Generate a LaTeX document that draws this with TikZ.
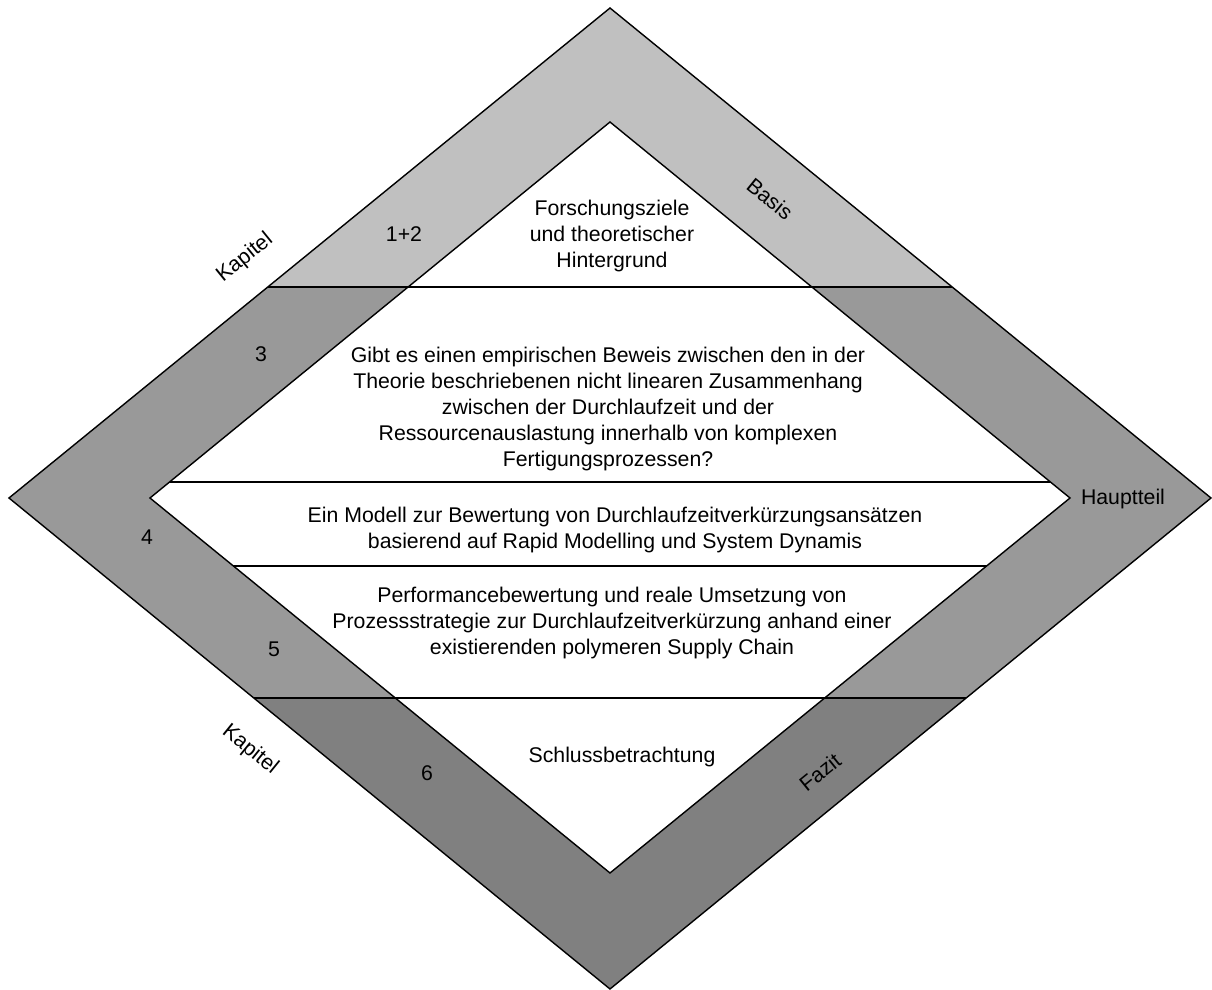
\documentclass[tikz,border=0pt]{standalone}
\usepackage{fontspec}
\setmainfont{Liberation Sans}
\usetikzlibrary{calc}
\definecolor{bandtop}{HTML}{C0C0C0}
\definecolor{bandmid}{HTML}{999999}
\definecolor{bandbot}{HTML}{808080}

\begin{document}
\begin{tikzpicture}[scale=1,
  txt/.style={font=\fontsize{6.05}{7.35}\selectfont, align=center, inner sep=0pt},
  ring/.style={even odd rule},
  rim/.style={black, line width=0.4pt},
  cut/.style={black, line width=0.6pt},
  sep/.style={black, line width=0.5pt}]
\useasboundingbox (-6.10,-4.92) rectangle (6.02,4.98);
%\draw [lightgray](-6,-5) grid (6,5);

% outer and inner diamond
\coordinate (ot) at (0, 4.90);
\coordinate (or) at (6.01, 0);
\coordinate (ob) at (0,-4.91);
\coordinate (ol) at (-6.01, 0);
\coordinate (it) at (0, 3.76);
\coordinate (ir) at (4.60, 0);
\coordinate (ib) at (0,-3.75);
\coordinate (il) at (-4.60, 0);

% grey bands of the ring
\begin{scope}
\clip (-6.2,2.11) rectangle (6.2,5);
\fill [bandtop, ring] (ot) -- (or) -- (ob) -- (ol) -- cycle (it) -- (ir) -- (ib) -- (il) -- cycle;
\end{scope}
\begin{scope}
\clip (-6.2,-2.00) rectangle (6.2,2.11);
\fill [bandmid, ring] (ot) -- (or) -- (ob) -- (ol) -- cycle (it) -- (ir) -- (ib) -- (il) -- cycle;
\end{scope}
\begin{scope}
\clip (-6.2,-5) rectangle (6.2,-2.00);
\fill [bandbot, ring] (ot) -- (or) -- (ob) -- (ol) -- cycle (it) -- (ir) -- (ib) -- (il) -- cycle;
\end{scope}

\draw [rim] (ot) -- (or) -- (ob) -- (ol) -- cycle;
\draw [rim] (it) -- (ir) -- (ib) -- (il) -- cycle;

% horizontal separators
\draw [cut] ($(ol)!0.4306!(ot)$) -- ($(or)!0.4306!(ot)$);
\draw [sep] ($(il)!0.0426!(it)$) -- ($(ir)!0.0426!(it)$);
\draw [sep] ($(il)!0.1813!(ib)$) -- ($(ir)!0.1813!(ib)$);
\draw [cut] ($(ol)!0.4073!(ob)$) -- ($(or)!0.4073!(ob)$);

% contents
\node [txt] (ziele) at (0.02, 2.62){Forschungsziele\\und theoretischer\\Hintergrund};
\node [txt] (frage) at (-0.02, 0.89){Gibt es einen empirischen Beweis zwischen den in der\\Theorie beschriebenen nicht linearen Zusammenhang\\zwischen der Durchlaufzeit und der\\Ressourcenauslastung innerhalb von komplexen\\Fertigungsprozessen?};
\node [txt] (modell) at (0.05,-0.32){Ein Modell zur Bewertung von Durchlaufzeitverkürzungsansätzen\\basierend auf Rapid Modelling und System Dynamis};
\node [txt] (umsetz) at (0.02,-1.25){Performancebewertung und reale Umsetzung von\\Prozessstrategie zur Durchlaufzeitverkürzung anhand einer\\existierenden polymeren Supply Chain};
\node [txt] (schluss) at (0.12,-2.59){Schlussbetrachtung};

% chapter numbers
\node [txt] (kap12) at (-2.06, 2.64){1+2};
\node [txt] (kap3) at (-3.49, 1.44){3};
\node [txt] (kap4) at (-4.63,-0.39){4};
\node [txt] (kap5) at (-3.36,-1.51){5};
\node [txt] (kap6) at (-1.83,-2.75){6};

% side labels
\node [txt, rotate=39] (kapoben) at (-3.65, 2.40){Kapitel};
\node [txt, rotate=-39] (kapunten) at (-3.60,-2.52){Kapitel};
\node [txt, rotate=-39] (basis) at (1.60, 2.99){Basis};
\node [txt, rotate=39] (fazit) at (2.10,-2.74){Fazit};
\node [txt] (haupt) at (5.13,-0.01){Hauptteil};
\end{tikzpicture}
\end{document}
